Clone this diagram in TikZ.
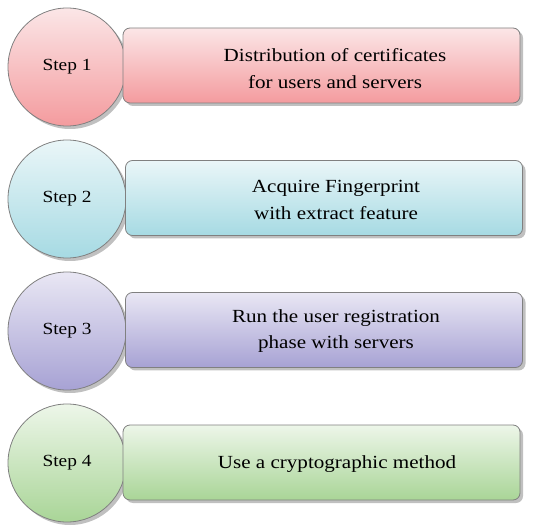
\documentclass[tikz,border=0pt]{standalone}
\usepackage{fontspec}
\setmainfont{Liberation Serif}[FakeStretch=1.14]
\usetikzlibrary{shadows}
\tikzset{
  x=1pt,y=-1pt,
  stepcircle/.style={circle,draw=black!50,line width=0.8pt,minimum size=118pt,inner sep=0pt,
    drop shadow={shadow xshift=3pt,shadow yshift=-3pt,fill=black!45,opacity=0.55},font=\fontsize{17}{20}\selectfont},
  stepbox/.style={rectangle,rounded corners=7pt,draw=black!50,line width=0.8pt,minimum width=397pt,minimum height=75pt,inner sep=0pt,
    drop shadow={shadow xshift=3pt,shadow yshift=-3pt,fill=black!45,opacity=0.55}},
  steptext/.style={anchor=base,inner sep=0pt,align=center,font=\fontsize{18.5}{27}\selectfont},
}
\definecolor{rA}{HTML}{FBE6E7}\definecolor{rB}{HTML}{F49B9E}
\definecolor{bA}{HTML}{EAF6F8}\definecolor{bB}{HTML}{A6DAE3}
\definecolor{pA}{HTML}{E9E7F4}\definecolor{pB}{HTML}{A7A2D4}
\definecolor{gA}{HTML}{EDF6E9}\definecolor{gB}{HTML}{A9D597}
\begin{document}
\begin{tikzpicture}
\useasboundingbox (0,0) rectangle (546,526);
\node[stepcircle,top color=rA,bottom color=rB] (c1) at (67,67) {Step 1};
\node[stepbox,top color=rA,bottom color=rB] (b1) at (321.5,65.5) {};
\node[steptext] (t1) at (335,88.5) {Distribution of certificates\\for users and servers};
\node[stepcircle,top color=bA,bottom color=bB] (c2) at (67,199) {Step 2};
\node[stepbox,top color=bA,bottom color=bB] (b2) at (324,198) {};
\node[steptext] (t2) at (336,219.3) {Acquire Fingerprint\\with extract feature};
\node[stepcircle,top color=pA,bottom color=pB] (c3) at (67,331) {Step 3};
\node[stepbox,top color=pA,bottom color=pB] (b3) at (324,330) {};
\node[steptext] (t3) at (336,349) {Run the user registration\\phase with servers};
\node[stepcircle,top color=gA,bottom color=gB] (c4) at (67,463) {Step 4};
\node[stepbox,top color=gA,bottom color=gB] (b4) at (321.5,462.5) {};
\node[steptext] (t4) at (337,468) {Use a cryptographic method};
\end{tikzpicture}
\end{document}
